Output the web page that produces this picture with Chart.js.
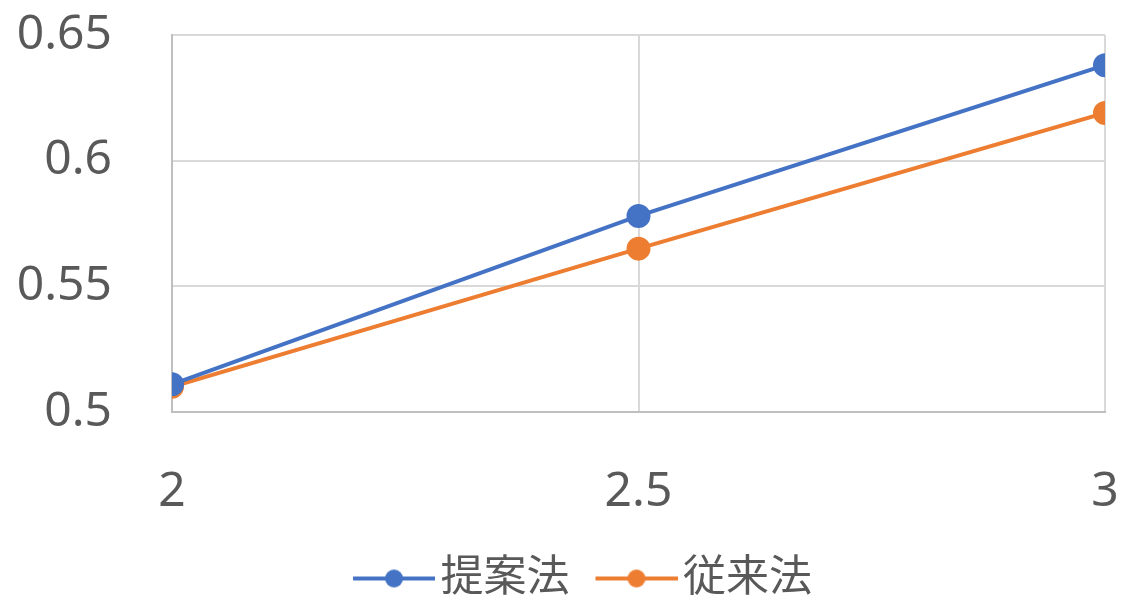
<!DOCTYPE html>
<html>
<head>
<meta charset="utf-8">
<script src="https://cdn.jsdelivr.net/npm/chart.js@4/dist/chart.umd.min.js"></script>
<style>
  html, body { margin: 0; padding: 0; background: #fff; }
  #wrap { width: 1130px; height: 606px; }
</style>
</head>
<body>
<div id="wrap"><canvas id="grafico"></canvas></div>
<script>
// valores
const xValores = [2, 2.5, 3];
const serieProposto = [0.511, 0.578, 0.638];
const serieConvencional = [0.510, 0.565, 0.619];
const nomesSeries = ['提案法', '従来法'];
const yTicks = [0.5, 0.55, 0.6, 0.65];
const xTicks = [2, 2.5, 3];

const azul = '#4472C4';
const laranja = '#ED7D31';
const fonte = '"Noto Sans", "Noto Sans CJK JP", sans-serif';

// ícone da legenda: linha com ponto no meio
function iconeLegenda(cor) {
    const c = document.createElement('canvas');
    c.width = 114;
    c.height = 24;
    const g = c.getContext('2d');
    g.strokeStyle = cor;
    g.lineWidth = 4;
    g.beginPath();
    g.moveTo(32, 12);
    g.lineTo(114, 12);
    g.stroke();
    g.fillStyle = cor;
    g.beginPath();
    g.arc(73, 12, 9, 0, Math.PI * 2);
    g.fill();
    return c;
}

// desloca a legenda um pouco para a direita e para baixo
const ajusteLegenda = {
    id: 'ajusteLegenda',
    afterLayout(chart) {
        const lg = chart.legend;
        lg.left += 22;
        lg.right += 22;
        lg.top += 4;
        lg.bottom += 4;
    }
};

const pontos = arr => arr.map((v, i) => ({ x: xValores[i], y: v }));
const formato = v => String(+Number(v).toFixed(2));

const ctx = document.getElementById('grafico').getContext('2d');
new Chart(ctx, {
    type: 'line',
    data: {
        datasets: [{
            label: nomesSeries[0],
            data: pontos(serieProposto),
            borderColor: azul,
            backgroundColor: azul,
            borderWidth: 4,
            pointRadius: 10,
            pointHoverRadius: 10
        }, {
            label: nomesSeries[1],
            data: pontos(serieConvencional),
            borderColor: laranja,
            backgroundColor: laranja,
            borderWidth: 4,
            pointRadius: 10,
            pointHoverRadius: 10
        }]
    },
    options: {
        responsive: true,
        maintainAspectRatio: false,
        animation: false,
        layout: { padding: { top: 35, right: 25, left: 0, bottom: 0 } },
        scales: {
            x: {
                type: 'linear',
                min: 2,
                max: 3,
                afterBuildTicks: s => { s.ticks = xTicks.map(v => ({ value: v })); },
                afterFit: s => { s.height = 131; },
                grid: { color: '#d9d9d9', lineWidth: 2, drawTicks: true, tickLength: 52, tickColor: 'rgba(0,0,0,0)' },
                border: { color: '#bfbfbf', width: 2 },
                ticks: {
                    padding: 0,
                    color: '#595959',
                    font: { family: fonte, size: 48 },
                    maxRotation: 0,
                    callback: formato
                }
            },
            y: {
                min: 0.5,
                max: 0.65,
                afterBuildTicks: s => { s.ticks = yTicks.map(v => ({ value: v })); },
                afterFit: s => { s.width = 172; },
                grid: { color: '#d9d9d9', lineWidth: 2, drawTicks: true, tickLength: 60, tickColor: 'rgba(0,0,0,0)' },
                border: { color: '#bfbfbf', width: 2 },
                ticks: {
                    padding: 0,
                    color: '#595959',
                    font: { family: fonte, size: 48 },
                    callback: formato
                }
            }
        },
        plugins: {
            tooltip: { enabled: false },
            legend: {
                position: 'bottom',
                labels: {
                    usePointStyle: true,
                    pointStyleWidth: 82,
                    boxHeight: 24,
                    padding: 10,
                    color: '#595959',
                    font: { family: fonte, size: 43 },
                    generateLabels: chart => {
                        const cores = [azul, laranja];
                        return chart.data.datasets.map((ds, i) => ({
                            text: ds.label,
                            pointStyle: iconeLegenda(cores[i]),
                            fillStyle: cores[i],
                            strokeStyle: cores[i],
                            lineWidth: 0,
                            fontColor: '#595959',
                            datasetIndex: i,
                            hidden: false
                        }));
                    }
                }
            }
        }
    },
    plugins: [ajusteLegenda]
});
</script>
</body>
</html>
